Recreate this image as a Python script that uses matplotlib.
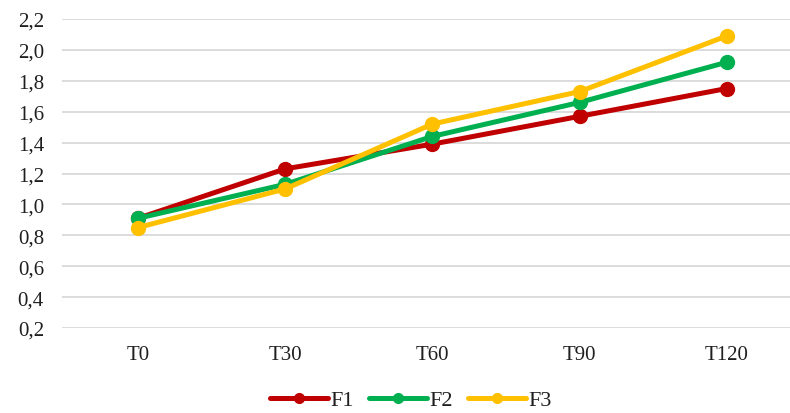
import matplotlib
matplotlib.use("Agg")
import matplotlib.pyplot as plt
from matplotlib.ticker import FuncFormatter

# ---- data ----
categories = ["T0", "T30", "T60", "T90", "T120"]
f1 = [0.91, 1.23, 1.39, 1.57, 1.75]
f2 = [0.91, 1.13, 1.44, 1.66, 1.92]
f3 = [0.85, 1.10, 1.52, 1.73, 2.09]
y_ticks = [0.2, 0.4, 0.6, 0.8, 1.0, 1.2, 1.4, 1.6, 1.8, 2.0, 2.2]

series = [("F1", f1, "#C00000"), ("F2", f2, "#00B050"), ("F3", f3, "#FFC000")]

plt.rcParams["font.family"] = ["Liberation Serif", "DejaVu Serif"]
TEXT = "#1f1f1f"

W, H = 790, 414
fig = plt.figure(figsize=(W / 100, H / 100), dpi=100, facecolor="white")
ax = fig.add_axes([62 / W, (H - 329) / H, (790 - 62) / W, (329 - 20) / H])

x = list(range(len(categories)))
for name, vals, col in series:
    ax.plot(x, vals, color=col, linewidth=3.6, marker="o", markersize=10,
            label=name, solid_capstyle="round")

ax.set_ylim(0.2, 2.2)
ax.set_yticks(y_ticks)
ax.yaxis.set_major_formatter(FuncFormatter(lambda v, _: f"{v:.1f}".replace(".", ",")))
ax.set_xlim(-0.516, 4.43)
ax.set_xticks(x)
ax.set_xticklabels(categories)

ax.grid(axis="y", color="#D9D9D9", linewidth=1.3)
ax.set_axisbelow(True)
for s in ax.spines.values():
    s.set_visible(False)
ax.tick_params(axis="both", length=0, labelsize=15, colors=TEXT)
ax.tick_params(axis="x", pad=12)
ax.tick_params(axis="y", pad=13)

leg = fig.legend(loc="center", bbox_to_anchor=(0.52, (H - 401) / H), ncol=3,
                 frameon=False, fontsize=16, handlelength=2.6, markerscale=0.7,
                 handletextpad=0.1, columnspacing=0.7)
for t in leg.get_texts():
    t.set_color(TEXT)

fig.savefig("out.png", dpi=100, facecolor="white")
